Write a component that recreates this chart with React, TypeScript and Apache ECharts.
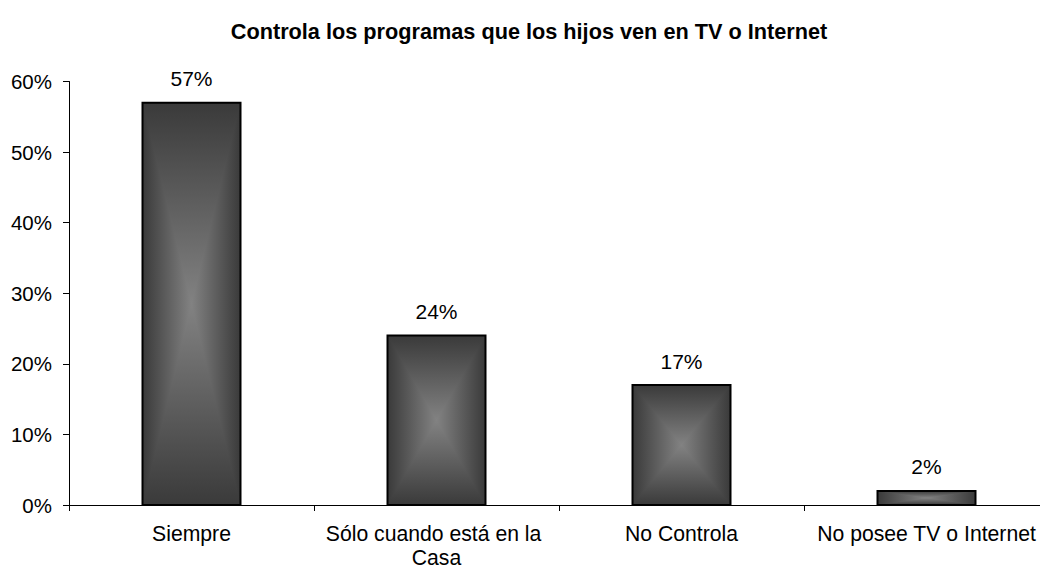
import React, { useEffect, useRef } from "react";
import * as echarts from "echarts";

const titleText = "Controla los programas que los hijos ven en TV o Internet";
const categories = ["Siempre", "Sólo cuando está en la Casa", "No Controla", "No posee TV o Internet"];
const values = [0.57, 0.24, 0.17, 0.02];
const yMin = 0;
const yMax = 0.6;
const yInterval = 0.1;

const FONT = '"Liberation Sans", Arial, sans-serif';
const EDGE = "#3a3a3a";
const CENTER = "#828282";

function gradAbs(ax: number, ay: number, bx: number, by: number) {
  return new echarts.graphic.LinearGradient(
    ax,
    ay,
    bx,
    by,
    [
      { offset: 0, color: EDGE },
      { offset: 1, color: CENTER },
    ],
    true
  );
}

export default function App() {
  const ref = useRef<HTMLDivElement>(null);
  useEffect(() => {
    if (!ref.current) return;
    const chart = echarts.init(ref.current, undefined, { renderer: "svg" });
    chart.setOption({
      animation: false,
      backgroundColor: "#ffffff",
      title: {
        text: titleText,
        left: 529,
        textAlign: "center",
        top: 20,
        padding: 0,
        textStyle: { fontFamily: FONT, fontSize: 21.7, fontWeight: "bold", color: "#000" },
      },
      grid: {
        left: 69,
        right: -9,
        top: 81.5,
        bottom: 63,
        containLabel: false,
        outerBoundsMode: "none",
      },
      xAxis: {
        type: "category",
        data: categories,
        boundaryGap: true,
        axisLine: { show: true, lineStyle: { color: "#000", width: 1 } },
        axisTick: { show: true, length: 6, alignWithLabel: false, lineStyle: { color: "#000" } },
        axisLabel: {
          interval: 0,
          margin: 16,
          fontFamily: FONT,
          fontSize: 21.2,
          color: "#000",
          width: 240,
          overflow: "break",
          lineHeight: 24,
        },
        splitLine: { show: false },
      },
      yAxis: {
        type: "value",
        min: yMin,
        max: yMax,
        interval: yInterval,
        axisLine: { show: true, lineStyle: { color: "#000", width: 1 } },
        axisTick: { show: true, length: 6, lineStyle: { color: "#000" } },
        axisLabel: {
          margin: 17,
          fontFamily: FONT,
          fontSize: 20.5,
          color: "#000",
          formatter: (v: number) => Math.round(v * 100) + "%",
        },
        splitLine: { show: false },
      },
      series: [
        {
          type: "custom",
          data: values.map((v, i) => [i, v]),
          encode: { x: 0, y: 1 },
          renderItem: (params: any, api: any) => {
            const idx = api.value(0);
            const val = api.value(1);
            const top = api.coord([idx, val]);
            const base = api.coord([idx, 0]);
            const bw = api.size([1, 0])[0] * 0.4;
            const x0 = top[0] - bw / 2;
            const x1 = top[0] + bw / 2;
            const y0 = top[1];
            const y1 = base[1];
            const cx = (x0 + x1) / 2;
            const cy = (y0 + y1) / 2;
            return {
              type: "group",
              children: [
                {
                  type: "rect",
                  shape: { x: x0, y: y0, width: cx - x0 + 0.5, height: y1 - y0 },
                  style: { fill: gradAbs(x0, 0, cx, 0) },
                },
                {
                  type: "rect",
                  shape: { x: cx - 0.5, y: y0, width: x1 - cx + 0.5, height: y1 - y0 },
                  style: { fill: gradAbs(x1, 0, cx, 0) },
                },
                {
                  type: "polygon",
                  shape: { points: [[x0, y0], [x1, y0], [cx, cy]] },
                  style: { fill: gradAbs(0, y0, 0, cy) },
                },
                {
                  type: "polygon",
                  shape: { points: [[x0, y1], [x1, y1], [cx, cy]] },
                  style: { fill: gradAbs(0, y1, 0, cy) },
                },
                {
                  type: "rect",
                  shape: { x: x0, y: y0, width: x1 - x0, height: y1 - y0 },
                  style: { fill: "none", stroke: "#000", lineWidth: 2 },
                },
                {
                  type: "text",
                  style: {
                    text: Math.round(val * 100) + "%",
                    x: cx,
                    y: y0 - 24,
                    align: "center",
                    verticalAlign: "middle",
                    fontFamily: FONT,
                    fontSize: 21,
                    fill: "#000",
                  },
                },
              ],
            };
          },
        },
      ],
    });
    return () => chart.dispose();
  }, []);
  return (
    <div
      ref={ref}
      style={{ position: "absolute", left: 0, top: 0, width: 1040, height: 568 }}
    />
  );
}
